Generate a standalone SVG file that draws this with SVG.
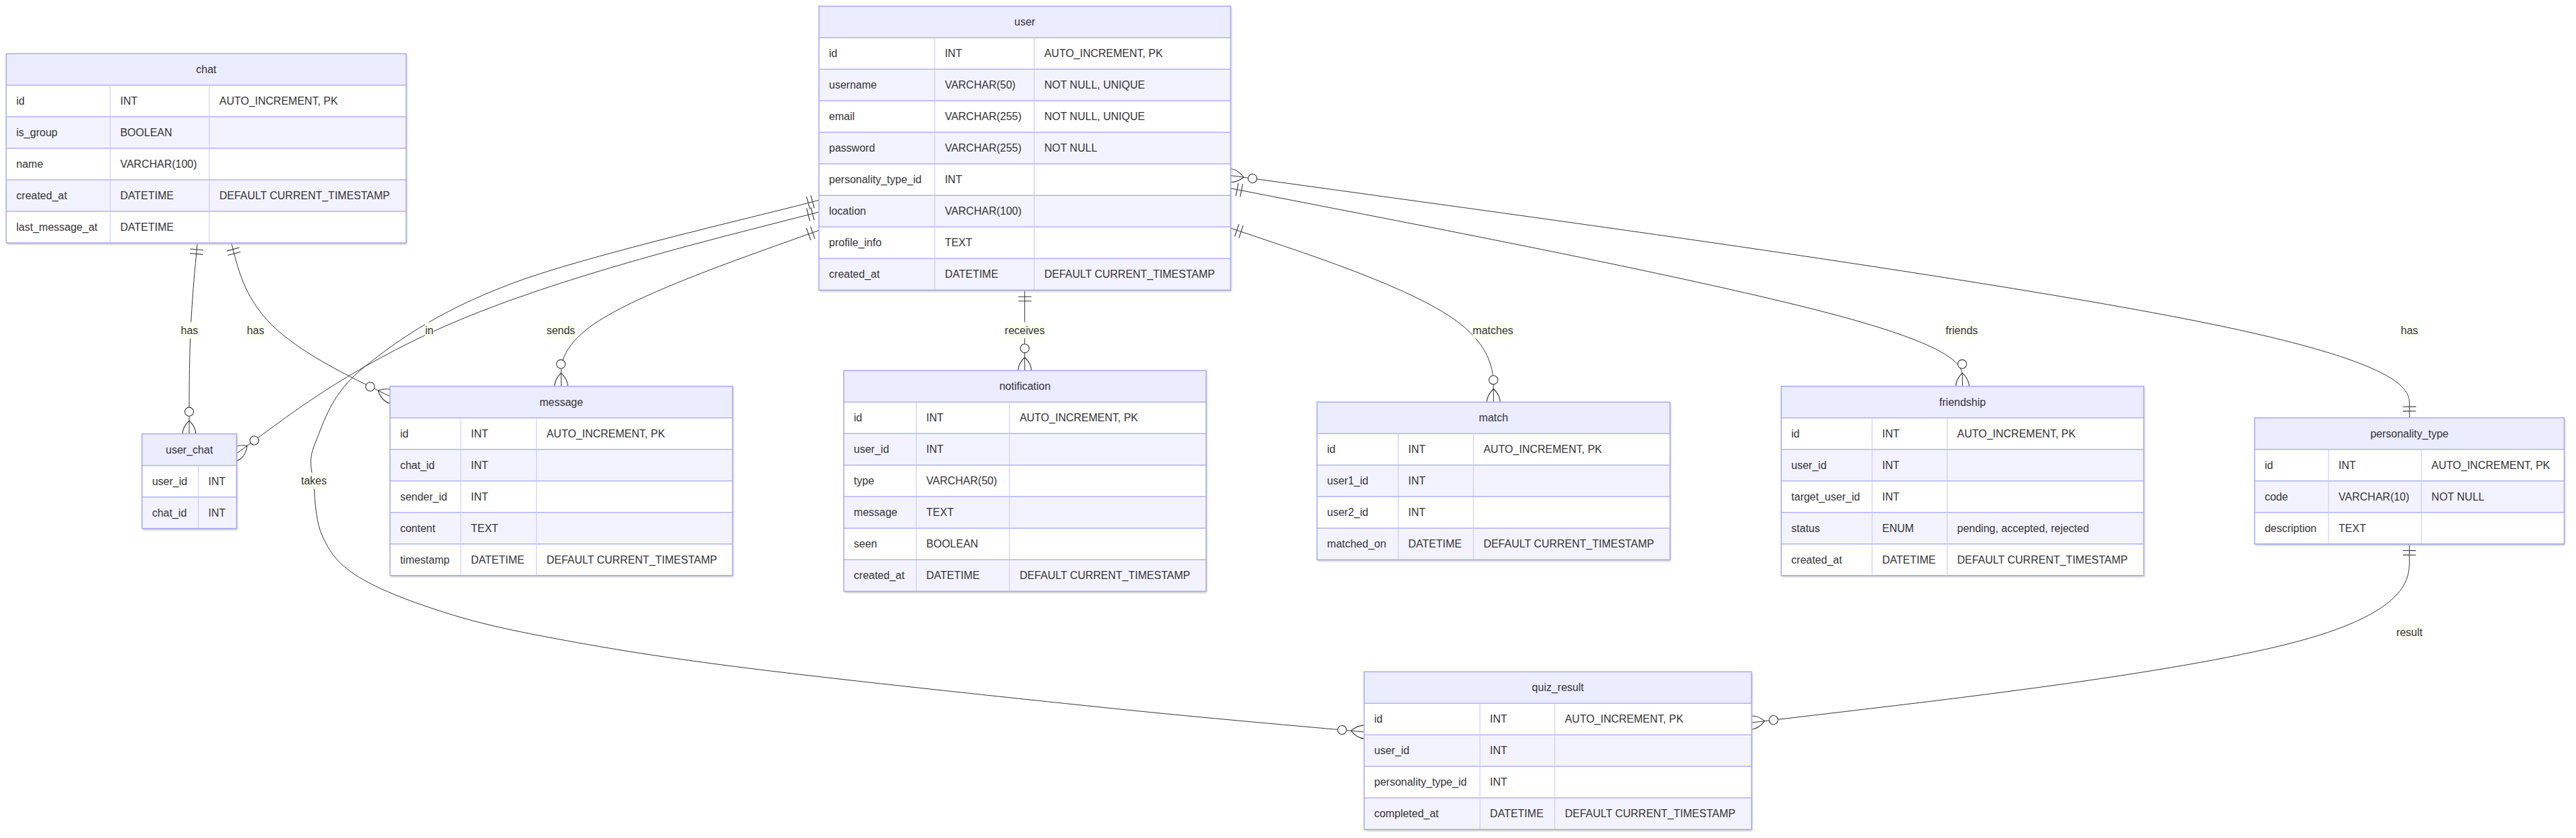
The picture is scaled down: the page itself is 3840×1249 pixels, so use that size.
<svg xmlns="http://www.w3.org/2000/svg" width="3840" height="1249" viewBox="0 0 3840 1249">
<style>
.bg{fill:#ffffff;filter:url(#sh)}
.hdr{fill:#ECECFF}
.odd{fill:#FFFFFF}
.even{fill:#F3F3FF}
.box{fill:none;stroke:#A8A8F5;stroke-width:1.5}
.hl{stroke:#B2B2F8;stroke-width:1.5}
.vl{stroke:#C4C4FA;stroke-width:1}
.t{font-family:"Liberation Sans",Arial,Helvetica,sans-serif;font-size:16px;fill:#333333;dominant-baseline:central}
.c{text-anchor:middle}
.rel{fill:none;stroke:#333333;stroke-width:1}
.lb{fill:#FBFFF2}
.mk{fill:none;stroke:#333333;stroke-width:1}
</style>
<defs>
<filter id="sh" x="-5%" y="-5%" width="110%" height="115%">
<feDropShadow dx="1" dy="2" stdDeviation="1.5" flood-color="#b9b9b9" flood-opacity="1"/>
</filter>
<marker id="oneS" viewBox="0 0 18 18" refX="0" refY="9" markerWidth="19.8" markerHeight="19.8" markerUnits="userSpaceOnUse" orient="auto"><path class="mk" d="M9,0 L9,18 M15,0 L15,18"/></marker>
<marker id="oneE" viewBox="0 0 18 18" refX="18" refY="9" markerWidth="19.8" markerHeight="19.8" markerUnits="userSpaceOnUse" orient="auto"><path class="mk" d="M3,0 L3,18 M9,0 L9,18"/></marker>
<marker id="manyE" viewBox="0 0 57 36" refX="39" refY="18" markerWidth="62.7" markerHeight="39.6" markerUnits="userSpaceOnUse" orient="auto"><circle cx="9" cy="18" r="6" fill="#ffffff" stroke="#333333" stroke-width="1"/><path class="mk" d="M21,18 Q39,0 57,18 Q39,36 21,18"/></marker>
<marker id="manyS" viewBox="0 0 57 36" refX="18" refY="18" markerWidth="62.7" markerHeight="39.6" markerUnits="userSpaceOnUse" orient="auto"><circle cx="48" cy="18" r="6" fill="#ffffff" stroke="#333333" stroke-width="1"/><path class="mk" d="M0,18 Q18,0 36,18 Q18,36 0,18"/></marker>
</defs>
<rect width="3840" height="1249" fill="#ffffff"/>

<g id="connectors">
<path id="chat-user_chat" class="rel" marker-start="url(#oneS)" marker-end="url(#manyE)" d="M294.2,362 L292.2,383.7 C290.1,405.3 286.1,448.7 284,496.1 C282,543.6 282,595.1 282,620.9 L282,646.7"/>
<path id="chat-message" class="rel" marker-start="url(#oneS)" marker-end="url(#manyE)" d="M344.8,362 L350.5,383.5 C356.2,405 367.6,448 407,486.1 C446.5,524.3 513.9,557.5 547.7,574.2 L581.4,590.8"/>
<path id="user-user_chat" class="rel" marker-start="url(#oneS)" marker-end="url(#manyE)" d="M1220.8,316 L1124,340.8 C1027.2,365.7 833.6,415.3 688.9,475.3 C544.2,535.3 448.4,605.7 400.5,640.8 L352.6,676"/>
<path id="user-message" class="rel" marker-start="url(#oneS)" marker-end="url(#manyE)" d="M1220.8,343.3 L1156.5,366.3 C1092.2,389.2 963.6,435.1 899.6,473.8 C835.6,512.6 836.1,544.1 836.4,559.9 L836.7,575.7"/>
<path id="user-quiz_result" class="rel" marker-start="url(#oneS)" marker-end="url(#manyE)" d="M1220.8,298.3 C1145.8,318.6 883,378.6 770,420 C657,461.5 593,507 543,547 C493,587 482.5,630.3 470,660 C457.5,689.7 466.2,701.7 468,725 C469.8,748.3 470.7,778 481,800 C491.3,822 502.7,839.2 530,857 C557.3,874.8 599.5,892 645,907 C690.5,922 727.2,932.5 803,947 C878.8,961.5 958.8,976 1100,994 C1241.2,1012 1494.4,1038.8 1650,1055 C1805.6,1071.2 1969.6,1085 2033.5,1091"/>
<path id="user-notification" class="rel" marker-start="url(#oneS)" marker-end="url(#manyE)" d="M1527.6,432.3 L1527.6,552.3"/>
<path id="user-match" class="rel" marker-start="url(#oneS)" marker-end="url(#manyE)" d="M1834.4,340 L1899.7,362 C1964.9,384 2095.5,428 2160.8,471.2 C2226.1,514.4 2226.3,556.9 2226.3,578.1 L2226.4,599.3"/>
<path id="user-friendship" class="rel" marker-start="url(#oneS)" marker-end="url(#manyE)" d="M1834.4,280.7 L2016,316 C2197.7,351.4 2561,422 2742.9,471.2 C2924.7,520.4 2925.1,548 2925.3,561.9 L2925.5,575.7"/>
<path id="personality_type-user" class="rel" marker-start="url(#manyS)" marker-end="url(#oneE)" d="M1834.4,261.5 L2127.2,301.9 C2419.9,342.3 3005.5,423.2 3298.4,483.4 C3591.2,543.6 3591.5,583.1 3591.6,602.9 L3591.7,622.7"/>
<path id="personality_type-quiz_result" class="rel" marker-start="url(#oneS)" marker-end="url(#manyE)" d="M3591.7,810.7 L3591.6,835.8 C3591.5,860.8 3591.2,910.9 3427.8,955.3 C3264.3,999.7 2937.7,1038.3 2774.3,1057.7 L2611,1077"/>

<rect class="lb" x="269.5" y="480.3" width="26" height="24"/>
<text class="t c" x="282.4" y="492.3">has</text>
<rect class="lb" x="368" y="480.3" width="26" height="24"/>
<text class="t c" x="381" y="492.3">has</text>
<rect class="lb" x="633.8" y="480.3" width="12.5" height="24"/>
<text class="t c" x="640" y="492.3">in</text>
<rect class="lb" x="814.6" y="480.3" width="42.8" height="24"/>
<text class="t c" x="836" y="492.3">sends</text>
<rect class="lb" x="1497.8" y="480.3" width="59.6" height="24"/>
<text class="t c" x="1527.6" y="492.3">receives</text>
<rect class="lb" x="2195.4" y="480.3" width="60.5" height="24"/>
<text class="t c" x="2225.6" y="492.3">matches</text>
<rect class="lb" x="2900.3" y="480.3" width="48" height="24"/>
<text class="t c" x="2924.3" y="492.3">friends</text>
<rect class="lb" x="3578.7" y="480.3" width="26" height="24"/>
<text class="t c" x="3591.7" y="492.3">has</text>
<rect class="lb" x="448.8" y="704.7" width="38.3" height="24"/>
<text class="t c" x="467.9" y="716.7">takes</text>
<rect class="lb" x="3572.1" y="930" width="39.2" height="24"/>
<text class="t c" x="3591.7" y="942">result</text>
</g>

<g id="chat">
<rect class="bg" x="9.3" y="80" width="596.1" height="282"/>
<rect class="hdr" x="9.3" y="80" width="596.1" height="47"/>
<rect class="odd" x="9.3" y="127" width="596.1" height="47"/>
<rect class="even" x="9.3" y="174" width="596.1" height="47"/>
<rect class="odd" x="9.3" y="221" width="596.1" height="47"/>
<rect class="even" x="9.3" y="268" width="596.1" height="47"/>
<rect class="odd" x="9.3" y="315" width="596.1" height="47"/>
<path class="hl" d="M9.3,127H605.4M9.3,174H605.4M9.3,221H605.4M9.3,268H605.4M9.3,315H605.4"/>
<path class="vl" d="M164.2,127V362M312,127V362"/>
<rect class="box" x="9.3" y="80" width="596.1" height="282"/>
<text class="t c" x="307.4" y="103.5">chat</text>
<text class="t" x="24.3" y="150.5">id</text><text class="t" x="179.2" y="150.5">INT</text><text class="t" x="327" y="150.5">AUTO_INCREMENT, PK</text>
<text class="t" x="24.3" y="197.5">is_group</text><text class="t" x="179.2" y="197.5">BOOLEAN</text>
<text class="t" x="24.3" y="244.5">name</text><text class="t" x="179.2" y="244.5">VARCHAR(100)</text>
<text class="t" x="24.3" y="291.5">created_at</text><text class="t" x="179.2" y="291.5">DATETIME</text><text class="t" x="327" y="291.5">DEFAULT CURRENT_TIMESTAMP</text>
<text class="t" x="24.3" y="338.5">last_message_at</text><text class="t" x="179.2" y="338.5">DATETIME</text>
</g>

<g id="user">
<rect class="bg" x="1220.8" y="9.3" width="613.6" height="423"/>
<rect class="hdr" x="1220.8" y="9.3" width="613.6" height="47"/>
<rect class="odd" x="1220.8" y="56.3" width="613.6" height="47"/>
<rect class="even" x="1220.8" y="103.3" width="613.6" height="47"/>
<rect class="odd" x="1220.8" y="150.3" width="613.6" height="47"/>
<rect class="even" x="1220.8" y="197.3" width="613.6" height="47"/>
<rect class="odd" x="1220.8" y="244.3" width="613.6" height="47"/>
<rect class="even" x="1220.8" y="291.3" width="613.6" height="47"/>
<rect class="odd" x="1220.8" y="338.3" width="613.6" height="47"/>
<rect class="even" x="1220.8" y="385.3" width="613.6" height="47"/>
<path class="hl" d="M1220.8,56.3H1834.4M1220.8,103.3H1834.4M1220.8,150.3H1834.4M1220.8,197.3H1834.4M1220.8,244.3H1834.4M1220.8,291.3H1834.4M1220.8,338.3H1834.4M1220.8,385.3H1834.4"/>
<path class="vl" d="M1393.4,56.3V432.3M1541.7,56.3V432.3"/>
<rect class="box" x="1220.8" y="9.3" width="613.6" height="423"/>
<text class="t c" x="1527.6" y="32.8">user</text>
<text class="t" x="1235.8" y="79.8">id</text><text class="t" x="1408.4" y="79.8">INT</text><text class="t" x="1556.7" y="79.8">AUTO_INCREMENT, PK</text>
<text class="t" x="1235.8" y="126.8">username</text><text class="t" x="1408.4" y="126.8">VARCHAR(50)</text><text class="t" x="1556.7" y="126.8">NOT NULL, UNIQUE</text>
<text class="t" x="1235.8" y="173.8">email</text><text class="t" x="1408.4" y="173.8">VARCHAR(255)</text><text class="t" x="1556.7" y="173.8">NOT NULL, UNIQUE</text>
<text class="t" x="1235.8" y="220.8">password</text><text class="t" x="1408.4" y="220.8">VARCHAR(255)</text><text class="t" x="1556.7" y="220.8">NOT NULL</text>
<text class="t" x="1235.8" y="267.8">personality_type_id</text><text class="t" x="1408.4" y="267.8">INT</text>
<text class="t" x="1235.8" y="314.8">location</text><text class="t" x="1408.4" y="314.8">VARCHAR(100)</text>
<text class="t" x="1235.8" y="361.8">profile_info</text><text class="t" x="1408.4" y="361.8">TEXT</text>
<text class="t" x="1235.8" y="408.8">created_at</text><text class="t" x="1408.4" y="408.8">DATETIME</text><text class="t" x="1556.7" y="408.8">DEFAULT CURRENT_TIMESTAMP</text>
</g>

<g id="user_chat">
<rect class="bg" x="211.7" y="646.7" width="140.9" height="141"/>
<rect class="hdr" x="211.7" y="646.7" width="140.9" height="47"/>
<rect class="odd" x="211.7" y="693.7" width="140.9" height="47"/>
<rect class="even" x="211.7" y="740.7" width="140.9" height="47"/>
<path class="hl" d="M211.7,693.7H352.6M211.7,740.7H352.6"/>
<path class="vl" d="M295.6,693.7V787.7"/>
<rect class="box" x="211.7" y="646.7" width="140.9" height="141"/>
<text class="t c" x="282.2" y="670.2">user_chat</text>
<text class="t" x="226.7" y="717.2">user_id</text><text class="t" x="310.6" y="717.2">INT</text>
<text class="t" x="226.7" y="764.2">chat_id</text><text class="t" x="310.6" y="764.2">INT</text>
</g>

<g id="message">
<rect class="bg" x="581.4" y="575.7" width="510.6" height="282"/>
<rect class="hdr" x="581.4" y="575.7" width="510.6" height="47"/>
<rect class="odd" x="581.4" y="622.7" width="510.6" height="47"/>
<rect class="even" x="581.4" y="669.7" width="510.6" height="47"/>
<rect class="odd" x="581.4" y="716.7" width="510.6" height="47"/>
<rect class="even" x="581.4" y="763.7" width="510.6" height="47"/>
<rect class="odd" x="581.4" y="810.7" width="510.6" height="47"/>
<path class="hl" d="M581.4,622.7H1092M581.4,669.7H1092M581.4,716.7H1092M581.4,763.7H1092M581.4,810.7H1092"/>
<path class="vl" d="M687,622.7V857.7M799.7,622.7V857.7"/>
<rect class="box" x="581.4" y="575.7" width="510.6" height="282"/>
<text class="t c" x="836.7" y="599.2">message</text>
<text class="t" x="596.4" y="646.2">id</text><text class="t" x="702" y="646.2">INT</text><text class="t" x="814.7" y="646.2">AUTO_INCREMENT, PK</text>
<text class="t" x="596.4" y="693.2">chat_id</text><text class="t" x="702" y="693.2">INT</text>
<text class="t" x="596.4" y="740.2">sender_id</text><text class="t" x="702" y="740.2">INT</text>
<text class="t" x="596.4" y="787.2">content</text><text class="t" x="702" y="787.2">TEXT</text>
<text class="t" x="596.4" y="834.2">timestamp</text><text class="t" x="702" y="834.2">DATETIME</text><text class="t" x="814.7" y="834.2">DEFAULT CURRENT_TIMESTAMP</text>
</g>

<g id="notification">
<rect class="bg" x="1257.8" y="552.3" width="540.1" height="329"/>
<rect class="hdr" x="1257.8" y="552.3" width="540.1" height="47"/>
<rect class="odd" x="1257.8" y="599.3" width="540.1" height="47"/>
<rect class="even" x="1257.8" y="646.3" width="540.1" height="47"/>
<rect class="odd" x="1257.8" y="693.3" width="540.1" height="47"/>
<rect class="even" x="1257.8" y="740.3" width="540.1" height="47"/>
<rect class="odd" x="1257.8" y="787.3" width="540.1" height="47"/>
<rect class="even" x="1257.8" y="834.3" width="540.1" height="47"/>
<path class="hl" d="M1257.8,599.3H1797.9M1257.8,646.3H1797.9M1257.8,693.3H1797.9M1257.8,740.3H1797.9M1257.8,787.3H1797.9M1257.8,834.3H1797.9"/>
<path class="vl" d="M1365.8,599.3V881.3M1504.9,599.3V881.3"/>
<rect class="box" x="1257.8" y="552.3" width="540.1" height="329"/>
<text class="t c" x="1527.9" y="575.8">notification</text>
<text class="t" x="1272.8" y="622.8">id</text><text class="t" x="1380.8" y="622.8">INT</text><text class="t" x="1519.9" y="622.8">AUTO_INCREMENT, PK</text>
<text class="t" x="1272.8" y="669.8">user_id</text><text class="t" x="1380.8" y="669.8">INT</text>
<text class="t" x="1272.8" y="716.8">type</text><text class="t" x="1380.8" y="716.8">VARCHAR(50)</text>
<text class="t" x="1272.8" y="763.8">message</text><text class="t" x="1380.8" y="763.8">TEXT</text>
<text class="t" x="1272.8" y="810.8">seen</text><text class="t" x="1380.8" y="810.8">BOOLEAN</text>
<text class="t" x="1272.8" y="857.8">created_at</text><text class="t" x="1380.8" y="857.8">DATETIME</text><text class="t" x="1519.9" y="857.8">DEFAULT CURRENT_TIMESTAMP</text>
</g>

<g id="match">
<rect class="bg" x="1963.3" y="599.3" width="526.1" height="235"/>
<rect class="hdr" x="1963.3" y="599.3" width="526.1" height="47"/>
<rect class="odd" x="1963.3" y="646.3" width="526.1" height="47"/>
<rect class="even" x="1963.3" y="693.3" width="526.1" height="47"/>
<rect class="odd" x="1963.3" y="740.3" width="526.1" height="47"/>
<rect class="even" x="1963.3" y="787.3" width="526.1" height="47"/>
<path class="hl" d="M1963.3,646.3H2489.4M1963.3,693.3H2489.4M1963.3,740.3H2489.4M1963.3,787.3H2489.4"/>
<path class="vl" d="M2084.3,646.3V834.3M2196.4,646.3V834.3"/>
<rect class="box" x="1963.3" y="599.3" width="526.1" height="235"/>
<text class="t c" x="2226.4" y="622.8">match</text>
<text class="t" x="1978.3" y="669.8">id</text><text class="t" x="2099.3" y="669.8">INT</text><text class="t" x="2211.4" y="669.8">AUTO_INCREMENT, PK</text>
<text class="t" x="1978.3" y="716.8">user1_id</text><text class="t" x="2099.3" y="716.8">INT</text>
<text class="t" x="1978.3" y="763.8">user2_id</text><text class="t" x="2099.3" y="763.8">INT</text>
<text class="t" x="1978.3" y="810.8">matched_on</text><text class="t" x="2099.3" y="810.8">DATETIME</text><text class="t" x="2211.4" y="810.8">DEFAULT CURRENT_TIMESTAMP</text>
</g>

<g id="friendship">
<rect class="bg" x="2655.3" y="575.7" width="540.3" height="282"/>
<rect class="hdr" x="2655.3" y="575.7" width="540.3" height="47"/>
<rect class="odd" x="2655.3" y="622.7" width="540.3" height="47"/>
<rect class="even" x="2655.3" y="669.7" width="540.3" height="47"/>
<rect class="odd" x="2655.3" y="716.7" width="540.3" height="47"/>
<rect class="even" x="2655.3" y="763.7" width="540.3" height="47"/>
<rect class="odd" x="2655.3" y="810.7" width="540.3" height="47"/>
<path class="hl" d="M2655.3,622.7H3195.6M2655.3,669.7H3195.6M2655.3,716.7H3195.6M2655.3,763.7H3195.6M2655.3,810.7H3195.6"/>
<path class="vl" d="M2790.8,622.7V857.7M2902.5,622.7V857.7"/>
<rect class="box" x="2655.3" y="575.7" width="540.3" height="282"/>
<text class="t c" x="2925.5" y="599.2">friendship</text>
<text class="t" x="2670.3" y="646.2">id</text><text class="t" x="2805.8" y="646.2">INT</text><text class="t" x="2917.5" y="646.2">AUTO_INCREMENT, PK</text>
<text class="t" x="2670.3" y="693.2">user_id</text><text class="t" x="2805.8" y="693.2">INT</text>
<text class="t" x="2670.3" y="740.2">target_user_id</text><text class="t" x="2805.8" y="740.2">INT</text>
<text class="t" x="2670.3" y="787.2">status</text><text class="t" x="2805.8" y="787.2">ENUM</text><text class="t" x="2917.5" y="787.2">pending, accepted, rejected</text>
<text class="t" x="2670.3" y="834.2">created_at</text><text class="t" x="2805.8" y="834.2">DATETIME</text><text class="t" x="2917.5" y="834.2">DEFAULT CURRENT_TIMESTAMP</text>
</g>

<g id="personality_type">
<rect class="bg" x="3360.9" y="622.7" width="461.5" height="188"/>
<rect class="hdr" x="3360.9" y="622.7" width="461.5" height="47"/>
<rect class="odd" x="3360.9" y="669.7" width="461.5" height="47"/>
<rect class="even" x="3360.9" y="716.7" width="461.5" height="47"/>
<rect class="odd" x="3360.9" y="763.7" width="461.5" height="47"/>
<path class="hl" d="M3360.9,669.7H3822.4M3360.9,716.7H3822.4M3360.9,763.7H3822.4"/>
<path class="vl" d="M3471.1,669.7V810.7M3609.6,669.7V810.7"/>
<rect class="box" x="3360.9" y="622.7" width="461.5" height="188"/>
<text class="t c" x="3591.7" y="646.2">personality_type</text>
<text class="t" x="3375.9" y="693.2">id</text><text class="t" x="3486.1" y="693.2">INT</text><text class="t" x="3624.6" y="693.2">AUTO_INCREMENT, PK</text>
<text class="t" x="3375.9" y="740.2">code</text><text class="t" x="3486.1" y="740.2">VARCHAR(10)</text><text class="t" x="3624.6" y="740.2">NOT NULL</text>
<text class="t" x="3375.9" y="787.2">description</text><text class="t" x="3486.1" y="787.2">TEXT</text>
</g>

<g id="quiz_result">
<rect class="bg" x="2033.5" y="1001.3" width="577.5" height="235"/>
<rect class="hdr" x="2033.5" y="1001.3" width="577.5" height="47"/>
<rect class="odd" x="2033.5" y="1048.3" width="577.5" height="47"/>
<rect class="even" x="2033.5" y="1095.3" width="577.5" height="47"/>
<rect class="odd" x="2033.5" y="1142.3" width="577.5" height="47"/>
<rect class="even" x="2033.5" y="1189.3" width="577.5" height="47"/>
<path class="hl" d="M2033.5,1048.3H2611M2033.5,1095.3H2611M2033.5,1142.3H2611M2033.5,1189.3H2611"/>
<path class="vl" d="M2206.1,1048.3V1236.3M2317.7,1048.3V1236.3"/>
<rect class="box" x="2033.5" y="1001.3" width="577.5" height="235"/>
<text class="t c" x="2322.3" y="1024.8">quiz_result</text>
<text class="t" x="2048.5" y="1071.8">id</text><text class="t" x="2221.1" y="1071.8">INT</text><text class="t" x="2332.7" y="1071.8">AUTO_INCREMENT, PK</text>
<text class="t" x="2048.5" y="1118.8">user_id</text><text class="t" x="2221.1" y="1118.8">INT</text>
<text class="t" x="2048.5" y="1165.8">personality_type_id</text><text class="t" x="2221.1" y="1165.8">INT</text>
<text class="t" x="2048.5" y="1212.8">completed_at</text><text class="t" x="2221.1" y="1212.8">DATETIME</text><text class="t" x="2332.7" y="1212.8">DEFAULT CURRENT_TIMESTAMP</text>
</g>
</svg>
